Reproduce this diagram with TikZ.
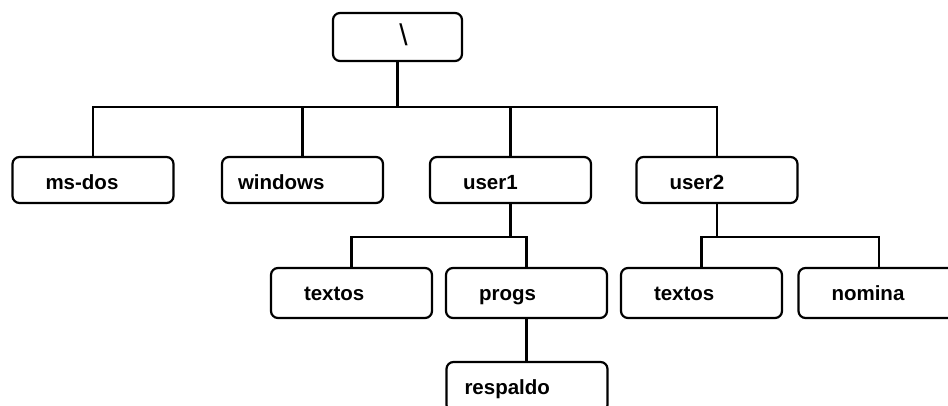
\documentclass[tikz,border=0pt]{standalone}
\usepackage{fontspec}
\setmainfont{Liberation Sans}
\begin{document}
\begin{tikzpicture}[x=1pt, y=-1pt, line width=2.2pt,
    dirbox/.style={draw, rounded corners=7pt, align=left, text width=95pt,
        inner xsep=33pt, inner ysep=0pt, minimum height=50pt,
        text height=14pt, text depth=0pt,
        font=\bfseries\fontsize{20.5}{22}\selectfont},
    lvlone/.style={minimum height=46pt, text height=20pt}]
    \path[use as bounding box, clip] (0,0) rectangle (948,406);
    % root directory
    \node[dirbox, align=center, inner xsep=17pt, minimum height=48pt,
        text height=22pt, text depth=4pt,
        font=\fontsize{30}{30}\selectfont] (root) at (397.5,37) {\hspace*{12pt}\textbackslash};
    % first level
    \node[dirbox, lvlone] (msdos) at (93,180) {ms-dos};
    \node[dirbox, lvlone, text width=129pt, inner xsep=16pt] (windows) at (302.5,180) {windows};
    \node[dirbox, lvlone] (user1) at (510.5,180) {user1};
    \node[dirbox, lvlone] (user2) at (717,180) {user2};
    % second level
    \node[dirbox] (textos1) at (351.5,293) {textos};
    \node[dirbox] (progs) at (526.5,293) {progs};
    \node[dirbox] (textos2) at (701.5,293) {textos};
    \node[dirbox] (nomina) at (879,293) {nomina};
    \node[dirbox, text width=125pt, inner xsep=18pt] (respaldo) at (527,387) {respaldo};
    % connectors
    \draw (msdos.north) -- ++(0,-49) coordinate (bus) -| (user2.north);
    \draw (root.south) -- (root.south |- bus);
    \draw (windows.north) -- (windows.north |- bus);
    \draw (user1.north) -- (user1.north |- bus);
    \draw (user1.south) -- ++(0,33) coordinate (u1bus);
    \draw (textos1.north) |- (u1bus) -| (progs.north);
    \draw (user2.south) -- ++(0,33) coordinate (u2bus);
    \draw (textos2.north) |- (u2bus) -| (nomina.north);
    \draw (progs.south) -- (progs.south |- respaldo.north);
\end{tikzpicture}
\end{document}
